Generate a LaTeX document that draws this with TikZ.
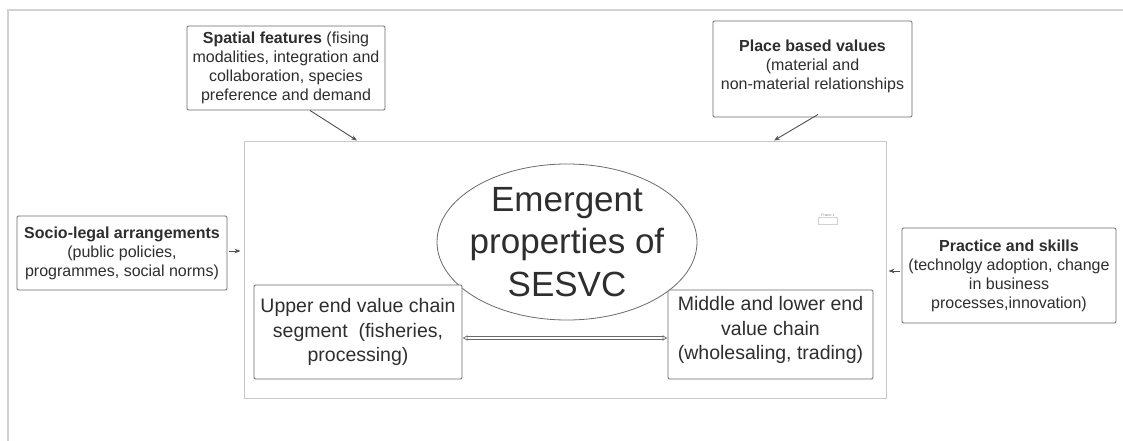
\documentclass[tikz,border=0pt]{standalone}
\usepackage{fontspec}
\setmainfont{Liberation Sans}
\usetikzlibrary{arrows.meta,shapes.geometric}
\definecolor{txt}{HTML}{2E2E2E}
\definecolor{edge}{HTML}{6A6A6A}
\definecolor{framegray}{HTML}{D2D2D2}
\definecolor{panelgray}{HTML}{C8C8C8}

\begin{document}
\begin{tikzpicture}[x=1pt,y=-1pt,
  box/.style={draw=edge, line width=0.9pt, rounded corners=1.2pt, align=center,
    text=txt, inner sep=0pt, font=\fontsize{16}{19}\selectfont},
  seg/.style={box, font=\fontsize{19.5}{24.5}\selectfont},
  link/.style={draw=edge!75!black, line width=0.9pt, -{Stealth[length=6pt,width=4.5pt]}}]
\useasboundingbox (0,0) rectangle (1123,441);
\fill[white] (0,0) rectangle (1123,441);

% outer page frame
\draw[framegray, line width=2pt] (8,441) -- (8,10) -- (1123,10);

% system panel
\node[draw=panelgray, line width=1pt, minimum width=642pt, minimum height=257pt, inner sep=0pt]
  (panel) at (565,269.5) {};

% driver boxes
\node[box, minimum width=198pt, minimum height=84pt] (spatial) at (286,68)
  {\textbf{Spatial features} (fising\\modalities, integration and\\collaboration, species\\preference and demand};
\node[box, minimum width=199pt, minimum height=96pt] (place) at (812.5,69)
  {\textbf{Place based values}\\(material and\\non-material relationships\\[-11pt]};
\node[box, minimum width=210pt, minimum height=74pt] (socio) at (122,253)
  {\textbf{Socio-legal arrangements}\\(public policies,\\programmes, social norms)};
\node[box, minimum width=214pt, minimum height=95pt] (practice) at (1009,275.5)
  {\textbf{Practice and skills}\\(technolgy adoption, change\\in business\\processes,innovation)};

% core of the panel: outline and its title
\node[ellipse, draw=edge, line width=0.8pt, minimum width=260pt, minimum height=156pt,
  inner sep=0pt] (core) at (567,242) {};
\node[align=center, text=txt, inner sep=0pt, font=\fontsize{35}{42.5}\selectfont]
  (coretitle) at (core.center) {Emergent\\properties of\\SESVC};
\node[seg, fill=white, minimum width=208pt, minimum height=94pt] (upper) at (358,332)
  {Upper end value chain\\segment~ (fisheries,\\processing)};
\node[seg, fill=white, minimum width=205pt, minimum height=89pt] (middle) at (770.5,334.5)
  {Middle and lower end\\value chain\\(wholesaling, trading)\\[-12pt]};

% small frame tag
\node[font=\fontsize{3.5}{4}\selectfont, text=gray, inner sep=0pt] (tag) at (828,215) {Frame 1};
\node[draw=framegray, line width=0.6pt, minimum width=19pt, minimum height=7pt, inner sep=0pt,
  anchor=north] (tagbox) at ([yshift=-1pt]tag.south) {};

% connectors
\draw[link] ([xshift=24pt]spatial.south) -- ([xshift=-208pt]panel.north);
\draw[link] ([xshift=5.5pt,yshift=3pt]place.south) -- ([xshift=209pt]panel.north);
\draw[link, shorten <=2pt, shorten >=3pt] ([yshift=2pt]socio.east) -- ([yshift=2pt]socio.east -| panel.west);
\draw[link, shorten <=2pt, shorten >=2pt] ([yshift=4.5pt]practice.west) -- ([yshift=4.5pt]practice.west -| panel.east);
\draw[draw=edge, line width=0.7pt, double=white, double distance=2.4pt,
  {Latex[open,length=5pt,width=6pt]}-{Latex[open,length=5pt,width=6pt]}]
  ([yshift=-6pt]upper.east) -- ([yshift=-3.5pt]middle.west);
\end{tikzpicture}
\end{document}
